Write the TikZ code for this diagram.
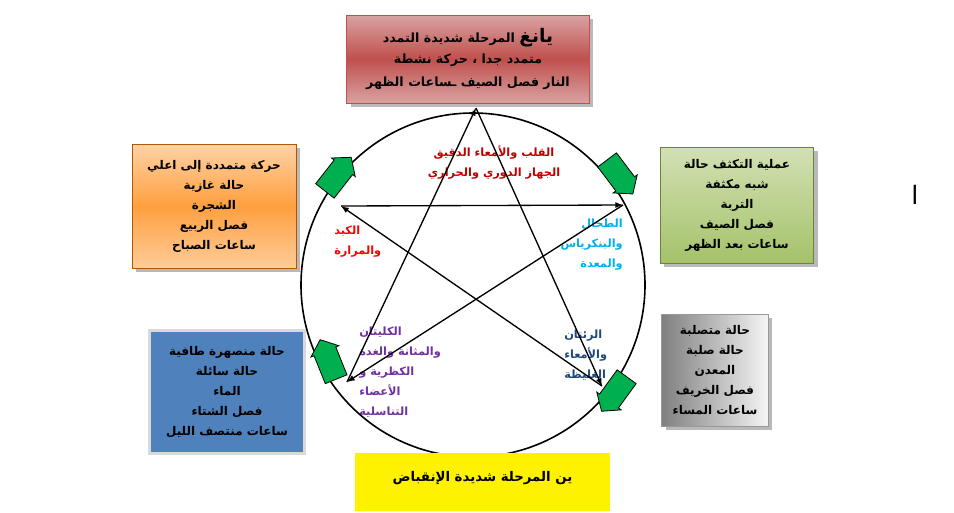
\documentclass[tikz,border=0pt]{standalone}
\usepackage{fontspec}
\usepackage{tikz}
\usetikzlibrary{shapes.arrows,shadows}
\TeXXeTstate=1
\newfontfamily\arabicfont[Script=Arabic]{DejaVu Sans}
\newcommand{\artx}[1]{{\arabicfont\bfseries\beginR #1\endR}}

\definecolor{organred}{HTML}{C00000}
\definecolor{liverred}{HTML}{FF0000}
\definecolor{organcyan}{HTML}{00B0F0}
\definecolor{organpurple}{HTML}{7030A0}
\definecolor{organnavy}{HTML}{1F497D}
\definecolor{flowgreen}{HTML}{00B050}
\definecolor{waterblue}{HTML}{4F81BD}
\definecolor{firered}{HTML}{C0504D}
\definecolor{earthgreen}{HTML}{9BBB59}

\tikzset{
  organ/.style={inner sep=0.75pt, font=\fontsize{8.5}{15}\selectfont},
  starline/.style={line width=1pt, -latex},
  flow/.style={shape=single arrow, single arrow head extend=2.5pt, single arrow tip angle=100,
    minimum height=32pt, inner sep=8.5pt, fill=flowgreen, draw=black, line width=0.6pt},
  phase/.style={inner sep=0pt, align=center, font=\fontsize{9}{15}\selectfont},
  boxshadow/.style={drop shadow={shadow xshift=3pt, shadow yshift=-3pt, fill=black!55}}
}

\begin{document}
\begin{tikzpicture}[x=0.75pt,y=0.75pt,yscale=-1,xscale=1]
\path[use as bounding box] (0,0) rectangle (954,512);

% Text Node
\draw (494,163) node [organ, text=organred, align=center] (heart) {\artx{القلب والأمعاء الدقيق}\\\artx{الجهاز الدوري والحراري}};
% Text Node
\draw (333,242) node [organ, text=liverred, align=left, anchor=west] (liver) {\artx{الكبد}\\\artx{والمرارة}};
% Text Node
\draw (624,245) node [organ, text=organcyan, align=right, anchor=east] (spleen) {\artx{الطحال}\\\artx{والبنكرياس}\\\artx{والمعدة}};
% Text Node
\draw (358,372) node [organ, text=organpurple, align=left, anchor=west] (kidney) {\artx{الكليتان}\\\artx{والمثانة والغدة}\\\artx{الكظرية و}\\\artx{الأعضاء}\\\artx{التناسلية}};
% Text Node
\draw (563,355) node [organ, text=organnavy, align=left, anchor=west] (lung) {\artx{الرئتان}\\\artx{والأمعاء}\\\artx{الغليظة}};

%Shape: Circle
\draw [line width=1.2pt] (473,285) circle (172);

% star vertices
\coordinate (fire) at (476,108);
\coordinate (wood) at (341,206);
\coordinate (earth) at (623,205);
\coordinate (water) at (347,382);
\coordinate (metal) at (602,386);

%Straight Lines
\draw [starline] (wood) -- (earth);
\draw [starline] (earth) -- (water);
\draw [starline] (water) -- (fire);
\draw [starline] (fire) -- (metal);
\draw [starline] (metal) -- (wood);

%Block Arrows
\draw (335,178) node [flow, rotate=52] (flowA) {};
\draw (617,173) node [flow, rotate=-53] (flowB) {};
\draw (617,390) node [flow, rotate=-126] (flowC) {};
\draw (330,364) node [flow, rotate=112] (flowD) {};

% Fire box
\draw (468,59) node [phase, boxshadow, draw=firered, top color=red!25!white!85!black, bottom color=red!25!white!85!black, middle color=firered, minimum width=182pt, minimum height=66pt, font=\fontsize{9.5}{15}\selectfont] (firebox) {\artx{{\fontsize{14}{15}\selectfont يانغ} المرحلة شديدة التمدد}\\[1pt]\artx{متمدد جدا ، حركة نشطة}\\[2pt]\artx{النار فصل الصيف ـساعات الظهر}};
% Wood box
\draw (214,206) node [phase, boxshadow, draw=orange!70!black, top color=orange!35!white, bottom color=orange!40!white, middle color=orange!75!white, minimum width=123pt, minimum height=93pt] (woodbox) {\artx{حركة متمددة إلى اعلي}\\\artx{حالة غازية}\\\artx{الشجرة}\\\artx{فصل الربيع}\\\artx{ساعات الصباح}};
% Earth box
\draw (737,205) node [phase, boxshadow, draw=earthgreen!70!black, top color=earthgreen!45!white, bottom color=earthgreen!90!white, minimum width=115pt, minimum height=87pt] (earthbox) {\artx{عملية التكثف حالة}\\\artx{شبه مكثفة}\\\artx{التربة}\\\artx{فصل الصيف}\\\artx{ساعات بعد الظهر}};
% Water box
\draw (227,392) node [phase, fill=waterblue, draw=black!15, line width=2.5pt, minimum width=116pt, minimum height=92pt] (waterbox) {\artx{حالة منصهرة طافية}\\\artx{حالة سائلة}\\\artx{الماء}\\\artx{فصل الشتاء}\\\artx{ساعات منتصف الليل}};
% Metal box
\draw (715,370) node [phase, boxshadow, draw=black!40, left color=black!50, right color=black!4, minimum width=80pt, minimum height=84pt] (metalbox) {\artx{حالة متصلبة}\\\artx{حالة صلبة}\\\artx{المعدن}\\\artx{فصل الخريف}\\\artx{ساعات المساء}};
% Yin box
\draw (482.5,453) node [phase, anchor=north, fill=yellow, minimum width=191pt, text height=21pt, text depth=22pt, font=\fontsize{10}{15}\selectfont] (yinbox) {\artx{ين المرحلة شديدة الإنقباض}};

% Text Node
\draw (915,195) node [inner sep=0.75pt, font=\fontsize{19}{19}\selectfont] (mark) {{\arabicfont\beginR ا\endR}};

\end{tikzpicture}
\end{document}
